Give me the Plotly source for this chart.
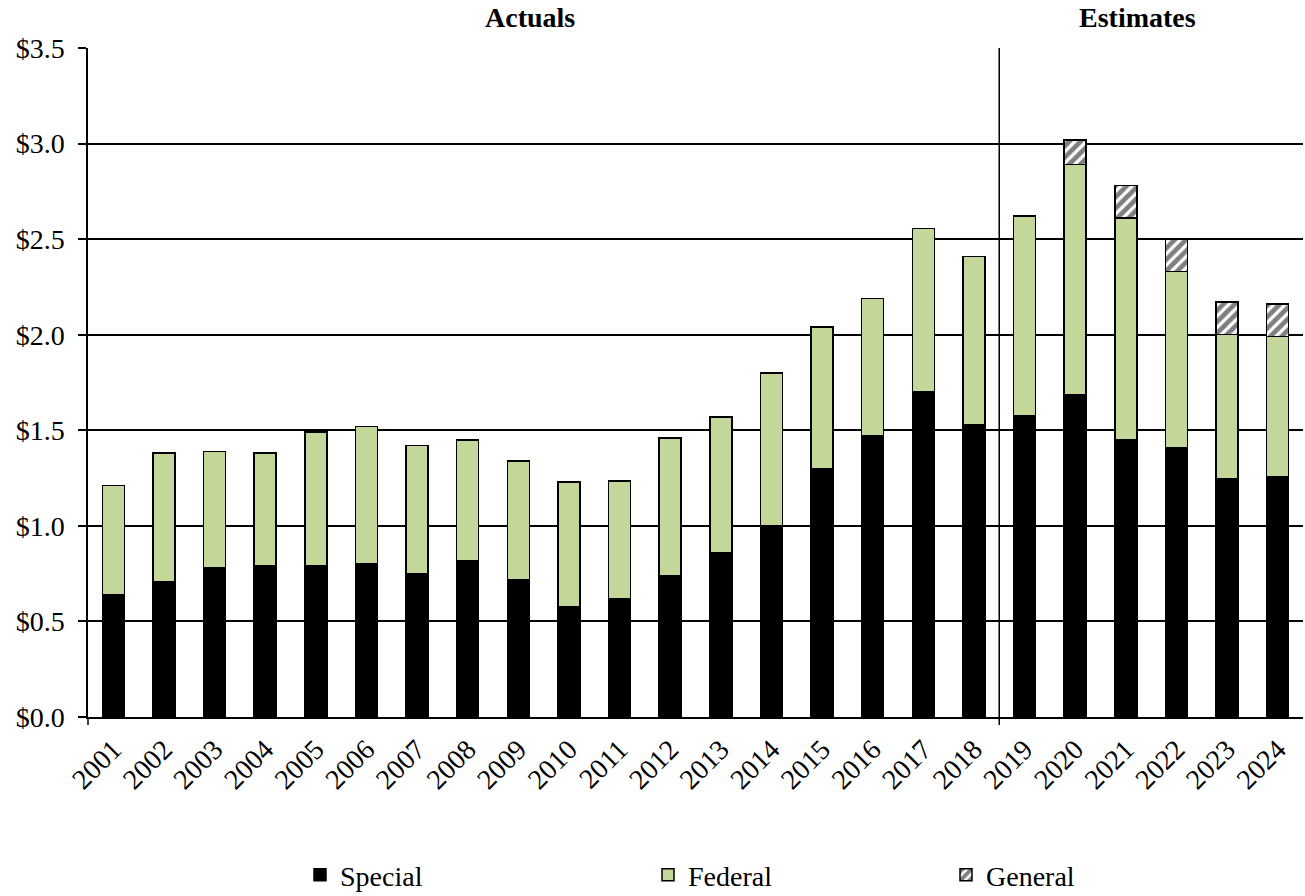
import plotly.graph_objects as go

years = [str(y) for y in range(2001, 2025)]

# Stack components (billions of dollars)
special = [0.64, 0.71, 0.78, 0.79, 0.79, 0.80, 0.75, 0.82, 0.72, 0.575, 0.62, 0.74,
           0.86, 1.00, 1.30, 1.47, 1.70, 1.53, 1.575, 1.685, 1.45, 1.41, 1.245, 1.255]
federal = [0.57, 0.67, 0.61, 0.59, 0.70, 0.72, 0.67, 0.63, 0.62, 0.655, 0.615, 0.72,
           0.71, 0.80, 0.74, 0.72, 0.855, 0.88, 1.045, 1.205, 1.16, 0.92, 0.755, 0.735]
general = [None] * 18 + [None, 0.13, 0.17, 0.17, 0.17, 0.17]

y_ticks = [0.0, 0.5, 1.0, 1.5, 2.0, 2.5, 3.0, 3.5]
y_tick_text = [f"${v:.1f}" for v in y_ticks]
section_labels = ["Actuals", "Estimates"]

FONT = "Liberation Serif, Times New Roman, serif"
FS = 28
W, H = 1305, 896
ML, MR, MT, MB = 88, 2, 48, 179
plot_w = W - ML - MR
plot_h = H - MT - MB

x = list(range(len(years)))
fig = go.Figure()
fig.add_bar(x=x, y=special, name="Special", legend="legend", showlegend=True,
            marker=dict(color="black", line=dict(color="black", width=1.5)))
fig.add_bar(x=x, y=federal, name="Federal", legend="legend2", showlegend=True,
            marker=dict(color="#C4D79B", line=dict(color="black", width=1.5)))
fig.add_bar(x=x, y=general, name="General", legend="legend3", showlegend=True,
            marker=dict(color="white", line=dict(color="black", width=1.5),
                        pattern=dict(shape="/", fgcolor="black", bgcolor="white",
                                     size=8, solidity=0.6)))

def px_x(p):
    return (p - ML) / plot_w

def px_y(p):
    return (MT + plot_h - p) / plot_h

# legends sit in container coordinates so they do not push the plot margins
legend_common = dict(orientation="h", yref="container", yanchor="middle",
                     y=(H - 875) / H, xref="container", xanchor="left",
                     font=dict(family=FONT, size=FS, color="black"),
                     bgcolor="rgba(0,0,0,0)", borderwidth=0, itemwidth=30)

split = 17.5  # between the last actual and first estimate year
split_paper = (split + 0.5) / len(years)
tick_len = 8 / plot_h

fig.update_layout(
    width=W, height=H,
    margin=dict(l=ML, r=MR, t=MT, b=MB, pad=0, autoexpand=False),
    paper_bgcolor="white", plot_bgcolor="white",
    barmode="stack", bargap=0.565,
    showlegend=True,
    font=dict(family=FONT, size=FS, color="black"),
    legend=dict(legend_common, x=300 / W),
    legend2=dict(legend_common, x=648 / W),
    legend3=dict(legend_common, x=946 / W),
    xaxis=dict(range=[-0.5, len(years) - 0.5], tickmode="array", tickvals=x,
               ticktext=years, tickangle=-45, showgrid=False, zeroline=False,
               showline=True, linecolor="black", linewidth=1.5, ticks="",
               ticklabelstandoff=3,
               tickfont=dict(family=FONT, size=FS, color="black")),
    yaxis=dict(range=[0, 3.5], tickmode="array", tickvals=y_ticks,
               ticktext=y_tick_text, showgrid=True,
               gridcolor="black", gridwidth=1.5, zeroline=False,
               showline=True, linecolor="black", linewidth=1.5,
               ticks="outside", ticklen=8, tickcolor="black", tickwidth=1.5,
               ticklabelstandoff=8,
               tickfont=dict(family=FONT, size=FS, color="black")),
    shapes=[
        dict(type="line", xref="paper", yref="paper", x0=split_paper, x1=split_paper,
             y0=-tick_len, y1=1, line=dict(color="black", width=1.5), layer="above"),
        dict(type="line", xref="paper", yref="paper", x0=0, x1=0,
             y0=-tick_len, y1=0, line=dict(color="black", width=1.5)),
    ],
    annotations=[
        dict(text=f"<b>{section_labels[0]}</b>", xref="paper", yref="paper",
             x=px_x(530), y=px_y(17), showarrow=False, xanchor="center", yanchor="middle",
             font=dict(family=FONT, size=FS, color="black")),
        dict(text=f"<b>{section_labels[1]}</b>", xref="paper", yref="paper",
             x=px_x(1137), y=px_y(17), showarrow=False, xanchor="center", yanchor="middle",
             font=dict(family=FONT, size=FS, color="black")),
    ],
)

fig.write_html("out.html")
